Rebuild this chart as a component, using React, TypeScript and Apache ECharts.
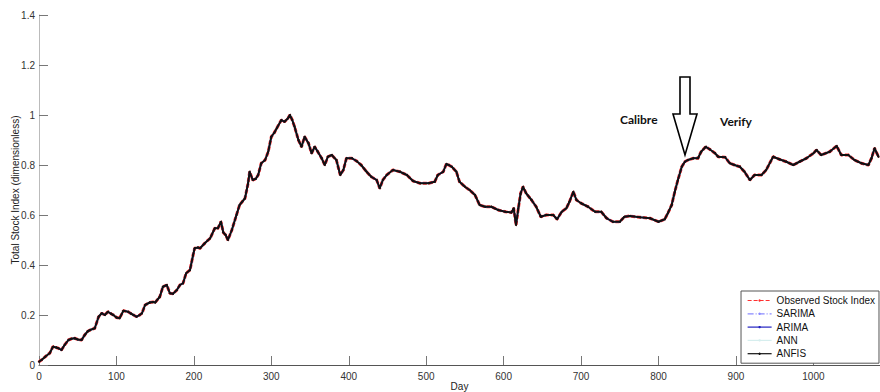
import React, { useEffect, useRef } from "react";
import * as echarts from "echarts";

// Day index of each reading
const days = [
  0, 4, 8, 14, 18, 22, 25, 29, 33, 38, 42, 46, 50, 55, 59, 63, 66, 72, 77, 81,
  85, 89, 93, 96, 100, 104, 109, 115, 119, 122, 126, 130, 133, 137, 143, 147, 150, 156, 160, 165,
  169, 173, 178, 182, 186, 190, 195, 199, 201, 205, 208, 214, 221, 227, 231, 235, 238, 241, 244, 249,
  255, 259, 266, 270, 272, 276, 280, 283, 287, 292, 296, 300, 304, 307, 313, 317, 321, 324, 327, 330,
  335, 339, 343, 348, 352, 356, 360, 365, 369, 373, 378, 384, 389, 393, 397, 404, 410, 416, 423, 429,
  436, 440, 444, 449, 457, 466, 475, 483, 492, 503, 511, 515, 522, 526, 529, 533, 539, 543, 550, 556,
  563, 569, 576, 584, 593, 602, 610, 613, 616, 619, 622, 625, 629, 636, 642, 648, 655, 664, 669, 675,
  681, 685, 690, 694, 700, 709, 718, 726, 733, 741, 750, 756, 763, 776, 789, 800, 808, 812, 817, 821,
  825, 830, 834, 838, 845, 851, 855, 861, 866, 873, 877, 886, 892, 898, 905, 911, 918, 924, 933, 939,
  948, 956, 965, 974, 982, 991, 1000, 1004, 1010, 1021, 1030, 1036, 1045, 1053, 1062, 1071, 1075, 1079, 1084,
];

// Observed total stock index (dimensionless)
const observed = [
  0.013, 0.022, 0.033, 0.048, 0.073, 0.07, 0.067, 0.06, 0.08, 0.1, 0.105, 0.107, 0.102, 0.1, 0.12, 0.135, 0.14, 0.147, 0.193, 0.207,
  0.2, 0.213, 0.205, 0.2, 0.19, 0.187, 0.217, 0.213, 0.205, 0.2, 0.193, 0.2, 0.207, 0.24, 0.25, 0.252, 0.25, 0.273, 0.313, 0.32,
  0.287, 0.285, 0.3, 0.32, 0.327, 0.367, 0.38, 0.44, 0.467, 0.47, 0.467, 0.487, 0.507, 0.547, 0.547, 0.573, 0.53, 0.52, 0.5, 0.54,
  0.6, 0.64, 0.667, 0.727, 0.773, 0.74, 0.745, 0.76, 0.807, 0.82, 0.853, 0.913, 0.93, 0.947, 0.98, 0.973, 0.985, 1.0, 0.98, 0.953,
  0.9, 0.873, 0.913, 0.887, 0.847, 0.873, 0.853, 0.827, 0.8, 0.833, 0.84, 0.82, 0.76, 0.78, 0.827, 0.827, 0.816, 0.8, 0.773, 0.753,
  0.74, 0.707, 0.74, 0.76, 0.78, 0.773, 0.76, 0.736, 0.727, 0.727, 0.733, 0.76, 0.773, 0.804, 0.8, 0.793, 0.773, 0.733, 0.713, 0.7,
  0.68, 0.64, 0.633, 0.633, 0.62, 0.613, 0.61, 0.627, 0.56, 0.627, 0.687, 0.713, 0.687, 0.66, 0.633, 0.593, 0.6, 0.6, 0.583, 0.613,
  0.627, 0.653, 0.693, 0.66, 0.647, 0.633, 0.613, 0.613, 0.587, 0.573, 0.573, 0.593, 0.596, 0.591, 0.587, 0.573, 0.583, 0.607, 0.64, 0.693,
  0.74, 0.793, 0.813, 0.82, 0.827, 0.827, 0.853, 0.873, 0.863, 0.847, 0.833, 0.831, 0.807, 0.8, 0.793, 0.773, 0.74, 0.76, 0.76, 0.78,
  0.833, 0.823, 0.813, 0.8, 0.813, 0.827, 0.847, 0.86, 0.84, 0.853, 0.876, 0.84, 0.84, 0.82, 0.807, 0.8, 0.827, 0.867, 0.833,
];

// Model outputs track the observed series almost exactly at this scale
const sarima = observed;
const arima = observed;
const ann = observed;
const anfis = observed;

const seriesNames = ["Observed Stock Index", "SARIMA", "ARIMA", "ANN", "ANFIS"];
const xTicks = { min: 0, max: 1086, interval: 100 };
const yTicks = { min: 0, max: 1.4, interval: 0.2 };

const toPairs = (vals: number[]) => days.map((d, i) => [d, vals[i]]);

export default function App() {
  const ref = useRef<HTMLDivElement>(null);
  useEffect(() => {
    if (!ref.current) return;
    const chart = echarts.init(ref.current, undefined, { renderer: "svg" });
    const font = "'Liberation Sans', Arial, sans-serif";
    chart.setOption({
      animation: false,
      backgroundColor: "#ffffff",
      textStyle: { fontFamily: font },
      grid: { left: 39, right: 0, top: 15, bottom: 27, outerBoundsMode: "none", containLabel: false },
      legend: {
        orient: "vertical",
        right: 1,
        top: 291,
        itemWidth: 24,
        itemHeight: 3,
        itemGap: 2.3,
        padding: [4, 4, 4, 6],
        borderColor: "#555",
        borderWidth: 1,
        backgroundColor: "#ffffff",
        lineStyle: { width: 1.2 },
        textStyle: { fontSize: 10, lineHeight: 11, color: "#111", fontFamily: font },
        data: seriesNames,
      },
      xAxis: {
        type: "value",
        min: xTicks.min,
        max: xTicks.max,
        interval: xTicks.interval,
        name: "Day",
        nameLocation: "middle",
        nameGap: 16,
        nameMoveOverlap: false,
        nameTextStyle: { fontSize: 10, color: "#222", verticalAlign: "top" },
        axisLine: { show: true, lineStyle: { color: "#555", width: 1 } },
        axisTick: { show: true, inside: true, length: 9, lineStyle: { color: "#777" } },
        axisLabel: { fontSize: 10, color: "#333", margin: 6, showMaxLabel: false, formatter: (v: number) => String(v) },
        splitLine: { show: false },
      },
      yAxis: {
        type: "value",
        min: yTicks.min,
        max: yTicks.max,
        interval: yTicks.interval,
        name: "Total Stock Index (dimensionless)",
        nameLocation: "middle",
        nameGap: 19,
        nameMoveOverlap: false,
        nameTextStyle: { fontSize: 10, color: "#222" },
        axisLine: { show: true, lineStyle: { color: "#bbb", width: 1 } },
        axisTick: { show: true, inside: true, length: 9, lineStyle: { color: "#777" } },
        axisLabel: { fontSize: 10, color: "#333", margin: 4, formatter: (v: number) => String(Math.round(v * 10) / 10) },
        splitLine: { show: false },
      },
      series: [
        {
          name: "Observed Stock Index",
          type: "line",
          data: toPairs(observed),
          symbol: "circle",
          symbolSize: 2,
          showSymbol: true,
          itemStyle: { color: "#ff3030" },
          lineStyle: { color: "#ff3030", width: 3, type: [4, 2] },
          z: 1,
        },
        {
          name: "ANN",
          type: "line",
          data: toPairs(ann),
          symbol: "none",
          itemStyle: { color: "#d6eeee" },
          lineStyle: { color: "#d6eeee", width: 1 },
          z: 2,
        },
        {
          name: "SARIMA",
          type: "line",
          data: toPairs(sarima),
          symbol: "none",
          itemStyle: { color: "#8a8aff" },
          lineStyle: { color: "#8a8aff", width: 1, type: [6, 2, 1, 2] },
          z: 3,
        },
        {
          name: "ARIMA",
          type: "line",
          data: toPairs(arima),
          symbol: "none",
          itemStyle: { color: "#2020c0" },
          lineStyle: { color: "#2020c0", width: 1.5 },
          z: 4,
        },
        {
          name: "ANFIS",
          type: "line",
          data: toPairs(anfis),
          symbol: "circle",
          symbolSize: 2,
          showSymbol: true,
          itemStyle: { color: "#111" },
          lineStyle: { color: "#111", width: 2 },
          z: 5,
        },
      ],
      graphic: [
        {
          type: "polygon",
          shape: {
            points: [
              [680, 77],
              [690, 77],
              [690, 114],
              [697, 114],
              [685, 155],
              [673, 114],
              [680, 114],
            ],
          },
          style: { fill: "#ffffff", stroke: "#000", lineWidth: 1.6 },
          z: 100,
        },
        {
          type: "text",
          left: 620,
          top: 113,
          style: { text: "Calibre", fontSize: 12, fontWeight: "bold", fontFamily: "Lato, 'Open Sans', sans-serif", fill: "#111" },
          z: 100,
        },
        {
          type: "text",
          left: 720,
          top: 115,
          style: { text: "Verify", fontSize: 12, fontWeight: "bold", fontFamily: "Lato, 'Open Sans', sans-serif", fill: "#111" },
          z: 100,
        },
      ],
    });
    return () => chart.dispose();
  }, []);
  return (
    <div
      ref={ref}
      style={{ position: "absolute", left: 0, top: 0, width: 880, height: 392, background: "#fff" }}
    />
  );
}
